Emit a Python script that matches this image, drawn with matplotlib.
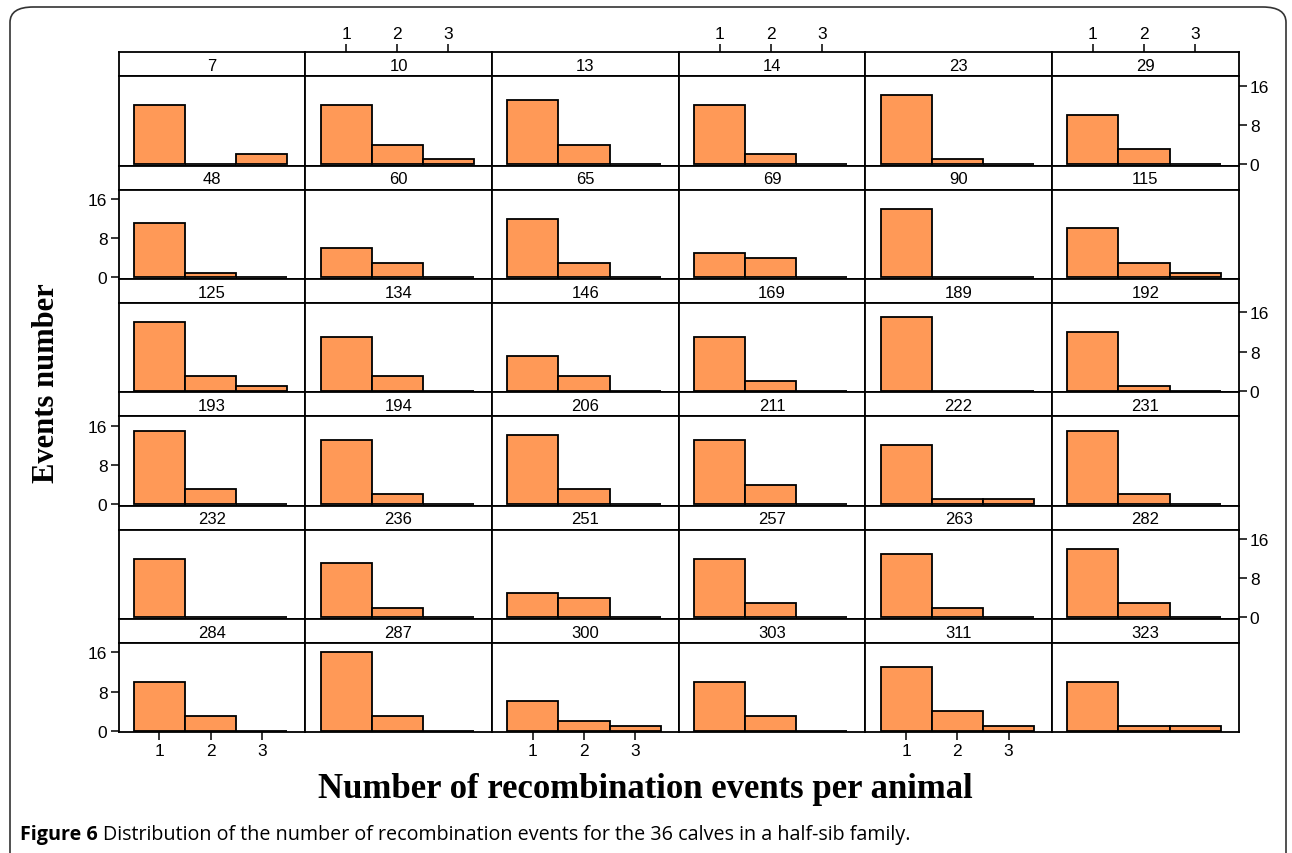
import matplotlib.pyplot as plt
from matplotlib.patches import FancyBboxPatch

# calf ids (strip labels), in reading order, 6 per row
calves = [7, 10, 13, 14, 23, 29,
          48, 60, 65, 69, 90, 115,
          125, 134, 146, 169, 189, 192,
          193, 194, 206, 211, 222, 231,
          232, 236, 251, 257, 263, 282,
          284, 287, 300, 303, 311, 323]

# counts of animals with 1, 2, 3 recombination events
n_one = [12, 12, 13, 12, 14, 10,
         11, 6, 12, 5, 14, 10,
         14, 11, 7, 11, 15, 12,
         15, 13, 14, 13, 12, 15,
         12, 11, 5, 12, 13, 14,
         10, 16, 6, 10, 13, 10]
n_two = [0, 4, 4, 2, 1, 3,
         1, 3, 3, 4, 0, 3,
         3, 3, 3, 2, 0, 1,
         3, 2, 3, 4, 1, 2,
         0, 2, 4, 3, 2, 3,
         3, 3, 2, 3, 4, 1]
n_three = [2, 1, 0, 0, 0, 0,
           0, 0, 0, 0, 0, 1,
           1, 0, 0, 0, 0, 0,
           0, 0, 0, 0, 1, 0,
           0, 0, 0, 0, 0, 0,
           0, 0, 1, 0, 1, 1]

events = [1, 2, 3]
yticks = [0, 8, 16]

W, H = 1292, 854
fig = plt.figure(figsize=(W / 100, H / 100), dpi=100)

num_font = ['Liberation Sans Narrow', 'Liberation Sans', 'DejaVu Sans']
bar_col = '#FF9957'

left, col_w = 118.5, 186.7
top, row_h, strip_h = 53.3, 113.33, 24.0
xlim = (0.2, 3.85)
ylim = (-0.3, 17.9)


def fig_rect(x0, y0, w, h):
    return [x0 / W, 1 - (y0 + h) / H, w / W, h / H]


def style_ticks(ax):
    ax.tick_params(length=6, width=1.1, pad=2, labelsize=12.5)
    for lab in ax.get_xticklabels() + ax.get_yticklabels():
        lab.set_family(num_font)


for i, calf in enumerate(calves):
    r, c = divmod(i, 6)
    x0 = left + c * col_w
    y0 = top + r * row_h

    # strip
    sax = fig.add_axes(fig_rect(x0, y0, col_w, strip_h))
    sax.set_xlim(xlim)
    sax.set_ylim(0, 1)
    sax.text(sum(xlim) / 2, 0.45, str(calf), ha='center', va='center',
             fontsize=12, family=num_font)
    for sp in sax.spines.values():
        sp.set_linewidth(1.3)
    sax.set_yticks([])
    if r == 0 and c % 2 == 1:
        sax.xaxis.tick_top()
        sax.set_xticks(events)
        style_ticks(sax)
    else:
        sax.set_xticks([])

    # panel
    ax = fig.add_axes(fig_rect(x0, y0 + strip_h, col_w, row_h - strip_h))
    counts = [n_one[i], n_two[i], n_three[i]]
    ax.bar(events, counts, width=1, color=bar_col, edgecolor='black',
           linewidth=1.3, clip_on=False)
    ax.set_xlim(xlim)
    ax.set_ylim(ylim)
    for sp in ax.spines.values():
        sp.set_linewidth(1.3)

    if r == 5 and c % 2 == 0:
        ax.set_xticks(events)
    else:
        ax.set_xticks([])
    if c == 0 and r % 2 == 1:
        ax.set_yticks(yticks)
    elif c == 5 and r % 2 == 0:
        ax.yaxis.tick_right()
        ax.set_yticks(yticks)
    else:
        ax.set_yticks([])
    style_ticks(ax)

fig.text(47 / W, 1 - 383 / H, 'Events number', rotation=90, ha='center',
         va='center', fontsize=22, fontweight='bold', family='Liberation Serif')
fig.text(645 / W, 1 - 790 / H, 'Number of recombination events per animal',
         ha='center', va='center', fontsize=25, fontweight='bold',
         family='Liberation Serif')

# caption: bold lead-in, then plain text right after it
cap_y = 1 - 835 / H
lead = fig.text(20 / W, cap_y, 'Figure 6', ha='left', va='center',
                fontsize=14.2, fontweight='bold', family='Open Sans')
renderer = fig.canvas.get_renderer()
bb = lead.get_window_extent(renderer=renderer)
fig.text(bb.x1 / W + 5 / W, cap_y,
         'Distribution of the number of recombination events for the 36 calves in a half-sib family.',
         ha='left', va='center', fontsize=14.2, family='Open Sans')

# rounded frame round the figure
frame = FancyBboxPatch((10 / W, -0.05), 1276 / W, 1 - 8 / H + 0.05,
                       boxstyle='round,pad=0,rounding_size=0.018',
                       transform=fig.transFigure, fill=False,
                       edgecolor='#333333', linewidth=1.2)
fig.patches.append(frame)

fig.savefig('out.png', dpi=100)
